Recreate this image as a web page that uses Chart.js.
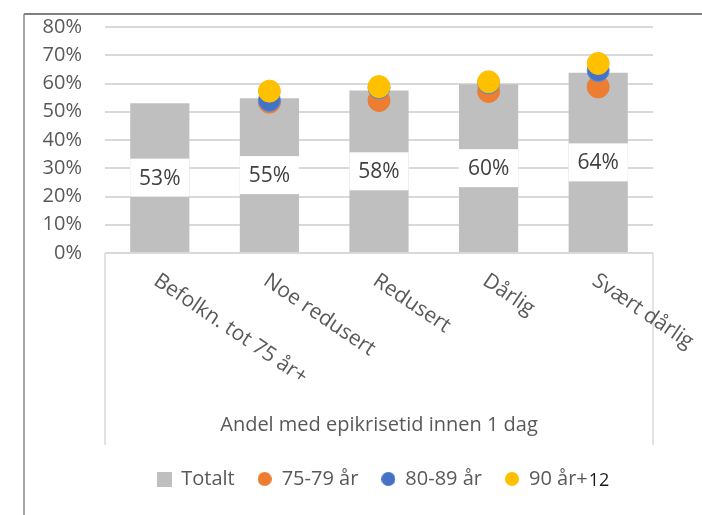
<!DOCTYPE html>
<html lang="no">
<head>
<meta charset="utf-8">
<title>Andel med epikrisetid innen 1 dag</title>
<script src="https://cdn.jsdelivr.net/npm/chart.js@4/dist/chart.umd.min.js"></script>
<style>
  html, body { margin: 0; padding: 0; background: #fff; }
  canvas { display: block; }
</style>
</head>
<body>
<canvas id="graficoEpikrise" width="702" height="515"></canvas>
<script>
const kategorier = ["Befolkn. tot 75 år+", "Noe redusert", "Redusert", "Dårlig", "Svært dårlig"];
const totalt = [53.0, 54.8, 57.5, 59.7, 63.8];
const alder75_79 = [null, 53.4, 54.0, 57.2, 58.8];
const alder80_89 = [null, 54.0, 58.5, 60.2, 64.6];
const alder90pluss = [null, 57.3, 58.9, 60.6, 67.1];
const yMaks = 80;
const ySteg = 10;
const fotnote = "12";

const fonte = "'Open Sans', sans-serif";
const gra = "#595959";

function lagMerke(farge, form, str) {
  const c = document.createElement("canvas");
  c.width = str;
  c.height = str;
  const g = c.getContext("2d");
  g.fillStyle = farge;
  if (form == "sirkel") {
    g.beginPath();
    g.arc(str / 2, str / 2, str / 2, 0, 2 * Math.PI);
    g.fill();
  } else {
    g.fillRect(0, 0, str, str);
  }
  return c;
}

const legendMerker = [
  lagMerke("#BFBFBF", "firkant", 15),
  lagMerke("#ED7D31", "sirkel", 14),
  lagMerke("#4472C4", "sirkel", 14),
  lagMerke("#FFC000", "sirkel", 14),
];

// ramme og avkuttet tittel
const rammePlugin = {
  id: "ramme",
  afterLayout(chart) {
    // legenden står litt til høyre for midten i originalen
    chart.legend.left += 34;
    chart.legend.right += 34;
  },
  beforeDraw(chart) {
    const ctx = chart.ctx;
    ctx.save();
    ctx.fillStyle = "#fff";
    ctx.fillRect(0, 0, chart.width, chart.height);
    ctx.fillStyle = "#000";
    ctx.font = "bold 20px " + fonte;
    ctx.textBaseline = "alphabetic";
    ctx.fillText("g", 84, -5);
    ctx.fillText("pp", 168, -5);
    ctx.strokeStyle = "#a6a6a6";
    ctx.lineWidth = 2;
    ctx.beginPath();
    ctx.moveTo(24, 14);
    ctx.lineTo(24, chart.height);
    ctx.stroke();
    ctx.strokeStyle = "#808080";
    ctx.beginPath();
    ctx.moveTo(24, 14);
    ctx.lineTo(chart.width, 14);
    ctx.stroke();
    ctx.restore();
  },
};

const etiketterPlugin = {
  id: "etiketter",
  afterDatasetsDraw(chart) {
    const ctx = chart.ctx;
    const omr = chart.chartArea;
    const xSkala = chart.scales.x;
    ctx.save();

    // kantlinjer under kategoriaksen
    ctx.strokeStyle = "#d9d9d9";
    ctx.lineWidth = 1.5;
    ctx.beginPath();
    ctx.moveTo(omr.left, omr.bottom);
    ctx.lineTo(omr.left, 445);
    ctx.moveTo(omr.right, omr.bottom);
    ctx.lineTo(omr.right, 445);
    ctx.stroke();

    // dataetiketter i hvite bokser
    const meta = chart.getDatasetMeta(0);
    ctx.font = "21px " + fonte;
    ctx.textAlign = "center";
    ctx.textBaseline = "middle";
    meta.data.forEach((bar, i) => {
      const midt = (bar.y + bar.base) / 2;
      ctx.fillStyle = "#fff";
      ctx.fillRect(bar.x - bar.width / 2, midt - 19, bar.width, 38);
      ctx.fillStyle = "#404040";
      ctx.fillText(Math.round(totalt[i]) + "%", bar.x, midt + 1);
    });

    // skrå kategorietiketter
    ctx.fillStyle = gra;
    ctx.textAlign = "left";
    ctx.textBaseline = "top";
    kategorier.forEach((tekst, i) => {
      const x = xSkala.getPixelForTick(i);
      ctx.save();
      ctx.translate(x + 2, omr.bottom + 17);
      ctx.rotate((34 * Math.PI) / 180);
      ctx.fillText(tekst, 0, 0);
      ctx.restore();
    });
    ctx.restore();
  },
  afterDraw(chart) {
    const bokser = chart.legend.legendHitBoxes;
    const siste = bokser[bokser.length - 1];
    const ctx = chart.ctx;
    ctx.save();
    ctx.fillStyle = "#1a1a1a";
    ctx.font = "18px " + fonte;
    ctx.textBaseline = "middle";
    ctx.fillText(fotnote, siste.left + siste.width + 1, siste.top + siste.height / 2 + 2);
    ctx.restore();
  },
};

const dados = {
  labels: kategorier,
  datasets: [
    {
      type: "bar",
      label: "Totalt",
      data: totalt,
      backgroundColor: "#BFBFBF",
      categoryPercentage: 1,
      barPercentage: 0.54,
      order: 10,
    },
    {
      type: "line",
      label: "75-79 år",
      data: alder75_79,
      showLine: false,
      pointRadius: 11,
      pointHoverRadius: 11,
      backgroundColor: "#ED7D31",
      borderColor: "#ED7D31",
      borderWidth: 1,
      order: 3,
    },
    {
      type: "line",
      label: "80-89 år",
      data: alder80_89,
      showLine: false,
      pointRadius: 11,
      pointHoverRadius: 11,
      backgroundColor: "#4472C4",
      borderColor: "#5B8FD9",
      borderWidth: 1,
      order: 2,
    },
    {
      type: "line",
      label: "90 år+",
      data: alder90pluss,
      showLine: false,
      pointRadius: 11,
      pointHoverRadius: 11,
      backgroundColor: "#FFC000",
      borderColor: "#FFC000",
      borderWidth: 1,
      order: 1,
    },
  ],
};

const config = {
  data: dados,
  options: {
    animation: false,
    responsive: false,
    devicePixelRatio: 1,
    layout: {
      padding: { top: 27, left: 24, right: 49, bottom: 16 },
    },
    scales: {
      x: {
        grid: { display: false },
        border: { display: false },
        ticks: { display: false },
        title: {
          display: true,
          text: "Andel med epikrisetid innen 1 dag",
          color: gra,
          font: { family: fonte, size: 20 },
          padding: { top: 0, bottom: 9 },
        },
        afterFit(skala) {
          skala.height = 193;
        },
      },
      y: {
        min: 0,
        max: yMaks,
        ticks: {
          stepSize: ySteg,
          color: gra,
          padding: 3,
          font: { family: fonte, size: 20 },
          callback: (v) => v + "%",
        },
        grid: {
          color: "#d9d9d9",
          lineWidth: 2,
          drawTicks: true,
          tickLength: 20,
          tickColor: "rgba(0,0,0,0)",
        },
        border: { display: false },
        afterFit(skala) {
          skala.width = 81;
        },
      },
    },
    plugins: {
      tooltip: { enabled: false },
      legend: {
        position: "bottom",
        labels: {
          usePointStyle: true,
          boxWidth: 14,
          padding: 23,
          color: gra,
          font: { family: fonte, size: 20 },
          sort: (a, b) => a.datasetIndex - b.datasetIndex,
          generateLabels(chart) {
            const itens = Chart.defaults.plugins.legend.labels.generateLabels(chart);
            itens.forEach((item) => {
              item.pointStyle = legendMerker[item.datasetIndex];
            });
            return itens;
          },
        },
      },
    },
  },
  plugins: [rammePlugin, etiketterPlugin],
};

const grafico = new Chart(document.getElementById("graficoEpikrise"), config);
</script>
</body>
</html>
